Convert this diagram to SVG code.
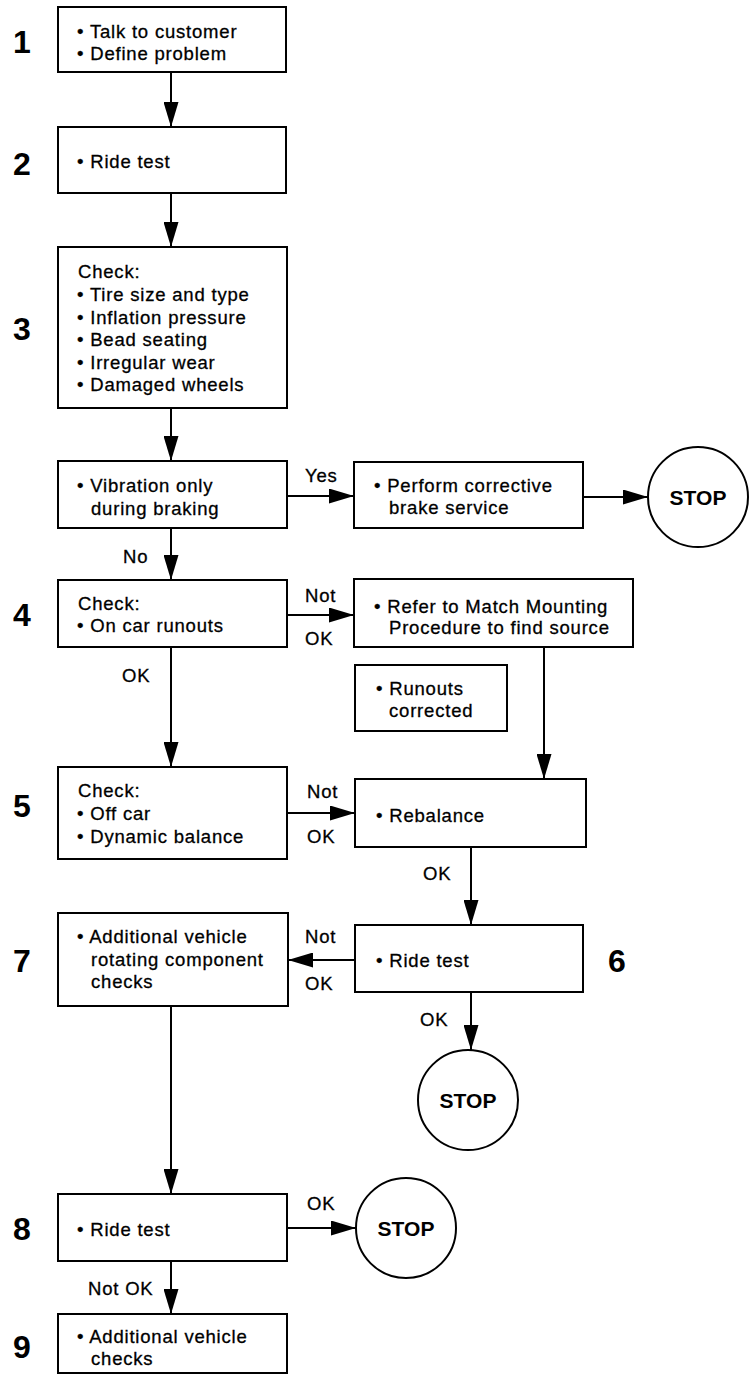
<svg xmlns="http://www.w3.org/2000/svg" width="750" height="1375" viewBox="0 0 750 1375">
<style>
.box{fill:#fff;stroke:#000;stroke-width:2}
.t{font-family:"Liberation Sans",Arial,sans-serif;font-size:18.5px;letter-spacing:0.8px;fill:#000;stroke:#000;stroke-width:0.3}
.num{font-family:"Liberation Sans",Arial,sans-serif;font-size:32px;font-weight:bold;fill:#000;text-anchor:middle}
.stop{font-family:"Liberation Sans",Arial,sans-serif;font-size:21px;font-weight:bold;fill:#000;text-anchor:middle}
.c{fill:none;stroke:#000;stroke-width:2;marker-end:url(#ah)}
</style>
<defs>
<marker id="ah" markerUnits="userSpaceOnUse" markerWidth="25" markerHeight="15" refX="25" refY="7.5" orient="auto">
<path d="M0,0 L25,7.5 L0,15 z" fill="#000"/>
</marker>
</defs>
<rect width="750" height="1375" fill="#fff"/>

<g id="connectors">
<line class="c" x1="171" y1="72" x2="171" y2="127"/>
<line class="c" x1="171" y1="193" x2="171" y2="247"/>
<line class="c" x1="171" y1="408" x2="171" y2="461"/>
<line class="c" x1="287" y1="496" x2="354" y2="496"/>
<line class="c" x1="583" y1="497" x2="648" y2="497"/>
<line class="c" x1="171" y1="528" x2="171" y2="580"/>
<line class="c" x1="287" y1="615" x2="354" y2="615"/>
<line class="c" x1="171" y1="647" x2="171" y2="767"/>
<line class="c" x1="544" y1="647" x2="544" y2="779"/>
<line class="c" x1="287" y1="813" x2="355" y2="813"/>
<line class="c" x1="471" y1="847" x2="471" y2="925"/>
<line class="c" x1="355" y1="960" x2="288" y2="960"/>
<line class="c" x1="471" y1="992" x2="471" y2="1050"/>
<line class="c" x1="171" y1="1006" x2="171" y2="1194"/>
<line class="c" x1="287" y1="1228" x2="356" y2="1228"/>
<line class="c" x1="171" y1="1261" x2="171" y2="1314"/>
<text class="t" x="305" y="482">Yes</text>
<text class="t" x="123" y="563">No</text>
<text class="t" x="305" y="602">Not</text>
<text class="t" x="305" y="645">OK</text>
<text class="t" x="122" y="682">OK</text>
<text class="t" x="307" y="798">Not</text>
<text class="t" x="307" y="843">OK</text>
<text class="t" x="423" y="880">OK</text>
<text class="t" x="305" y="943">Not</text>
<text class="t" x="305" y="990">OK</text>
<text class="t" x="420" y="1026">OK</text>
<text class="t" x="307" y="1210">OK</text>
<text class="t" x="88" y="1295">Not OK</text>
</g>

<g id="step-numbers">
<text class="num" x="22" y="53">1</text>
<text class="num" x="22" y="175">2</text>
<text class="num" x="22" y="340">3</text>
<text class="num" x="22" y="626">4</text>
<text class="num" x="22" y="817">5</text>
<text class="num" x="617" y="972">6</text>
<text class="num" x="22" y="972">7</text>
<text class="num" x="22" y="1240">8</text>
<text class="num" x="22" y="1358">9</text>
</g>

<g id="n1">
<rect class="box" x="58" y="7" width="228" height="65"/>
<text class="t" x="77" y="38">• Talk to customer</text>
<text class="t" x="77" y="60">• Define problem</text>
</g>
<g id="n2">
<rect class="box" x="58" y="127" width="228" height="66"/>
<text class="t" x="77" y="168">• Ride test</text>
</g>
<g id="n3">
<rect class="box" x="58" y="247" width="229" height="161"/>
<text class="t" x="78" y="278">Check:</text>
<text class="t" x="77" y="301">• Tire size and type</text>
<text class="t" x="77" y="324">• Inflation pressure</text>
<text class="t" x="77" y="346">• Bead seating</text>
<text class="t" x="77" y="369">• Irregular wear</text>
<text class="t" x="77" y="391">• Damaged wheels</text>
</g>
<g id="vibration">
<rect class="box" x="58" y="461" width="229" height="67"/>
<text class="t" x="77" y="492">• Vibration only</text>
<text class="t" x="91" y="515">during braking</text>
</g>
<g id="brake-service">
<rect class="box" x="354" y="462" width="229" height="66"/>
<text class="t" x="374" y="492">• Perform corrective</text>
<text class="t" x="389" y="514">brake service</text>
</g>
<g id="stop1">
<circle class="box" cx="698" cy="497" r="50"/>
<text class="stop" x="698" y="505">STOP</text>
</g>
<g id="n4">
<rect class="box" x="58" y="580" width="229" height="67"/>
<text class="t" x="78" y="610">Check:</text>
<text class="t" x="77" y="632">• On car runouts</text>
</g>
<g id="match-mounting">
<rect class="box" x="354" y="579" width="279" height="68"/>
<text class="t" x="374" y="613">• Refer to Match Mounting</text>
<text class="t" x="389" y="634">Procedure to find source</text>
</g>
<g id="runouts-corrected">
<rect class="box" x="355" y="665" width="152" height="66"/>
<text class="t" x="376" y="695">• Runouts</text>
<text class="t" x="389" y="717">corrected</text>
</g>
<g id="n5">
<rect class="box" x="58" y="767" width="229" height="92"/>
<text class="t" x="78" y="797">Check:</text>
<text class="t" x="77" y="820">• Off car</text>
<text class="t" x="77" y="843">• Dynamic balance</text>
</g>
<g id="rebalance">
<rect class="box" x="355" y="779" width="231" height="68"/>
<text class="t" x="376" y="822">• Rebalance</text>
</g>
<g id="n6">
<rect class="box" x="355" y="925" width="228" height="67"/>
<text class="t" x="376" y="967">• Ride test</text>
</g>
<g id="stop2">
<circle class="box" cx="468" cy="1100" r="50"/>
<text class="stop" x="468" y="1108">STOP</text>
</g>
<g id="n7">
<rect class="box" x="58" y="913" width="230" height="93"/>
<text class="t" x="77" y="943">• Additional vehicle</text>
<text class="t" x="91" y="966">rotating component</text>
<text class="t" x="91" y="988">checks</text>
</g>
<g id="n8">
<rect class="box" x="58" y="1194" width="229" height="67"/>
<text class="t" x="77" y="1236">• Ride test</text>
</g>
<g id="stop3">
<circle class="box" cx="406" cy="1228" r="50"/>
<text class="stop" x="406" y="1236">STOP</text>
</g>
<g id="n9">
<rect class="box" x="58" y="1314" width="229" height="59"/>
<text class="t" x="77" y="1343">• Additional vehicle</text>
<text class="t" x="91" y="1365">checks</text>
</g>
</svg>
